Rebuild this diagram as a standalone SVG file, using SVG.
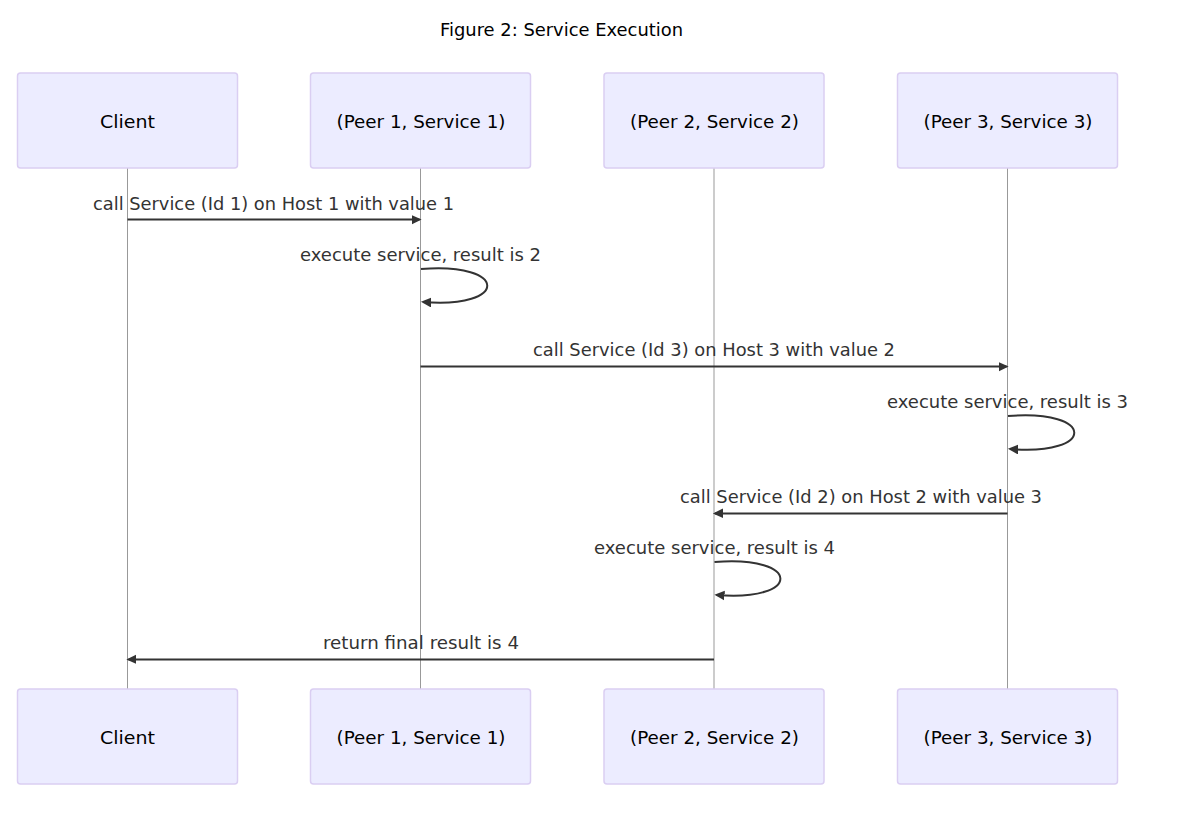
<svg xmlns="http://www.w3.org/2000/svg" width="1186" height="822" viewBox="0 0 1186 822">
<style>
.actor{fill:#ECECFF;stroke:hsl(259.6,59.2%,87.9%);stroke-width:1.5}
.atext{font-family:"DejaVu Sans",sans-serif;font-size:18px;fill:#000;text-anchor:middle;dominant-baseline:central}
.life{stroke:#999;stroke-width:1}
.msg{stroke:#333;stroke-width:2;fill:none}
.mtext{font-family:"DejaVu Sans",sans-serif;font-size:17.8px;fill:#333;text-anchor:middle}
.title{font-family:"DejaVu Sans",sans-serif;font-size:18px;fill:#000;text-anchor:middle}
</style>
<defs>
<marker id="arrow" markerWidth="12" markerHeight="12" refX="7.9" refY="5" orient="auto" markerUnits="userSpaceOnUse">
<path d="M -1 0 L 10 5 L 0 10 z" fill="#333"/>
</marker>
</defs>
<rect width="1186" height="822" fill="#fff"/>
<text class="title" x="561.5" y="36" textLength="243" lengthAdjust="spacingAndGlyphs">Figure 2: Service Execution</text>
<g id="lifelines">
<line class="life" x1="127.5" y1="168" x2="127.5" y2="689"/>
<line class="life" x1="420.5" y1="168" x2="420.5" y2="689"/>
<line class="life" x1="714" y1="168" x2="714" y2="689"/>
<line class="life" x1="1007.5" y1="168" x2="1007.5" y2="689"/>
</g>
<g id="actor-client-top"><rect class="actor" x="17.5" y="73" width="220" height="95" rx="3"/><text class="atext" x="127.5" y="121" textLength="55" lengthAdjust="spacingAndGlyphs">Client</text></g>
<g id="actor-peer1-top"><rect class="actor" x="310.5" y="73" width="220" height="95" rx="3"/><text class="atext" x="421" y="121" textLength="169" lengthAdjust="spacingAndGlyphs">(Peer 1, Service 1)</text></g>
<g id="actor-peer2-top"><rect class="actor" x="604" y="73" width="220" height="95" rx="3"/><text class="atext" x="714.5" y="121" textLength="169" lengthAdjust="spacingAndGlyphs">(Peer 2, Service 2)</text></g>
<g id="actor-peer3-top"><rect class="actor" x="897.5" y="73" width="220" height="95" rx="3"/><text class="atext" x="1008" y="121" textLength="169" lengthAdjust="spacingAndGlyphs">(Peer 3, Service 3)</text></g>
<g id="actor-client-bottom"><rect class="actor" x="17.5" y="689" width="220" height="95" rx="3"/><text class="atext" x="127.5" y="737" textLength="55" lengthAdjust="spacingAndGlyphs">Client</text></g>
<g id="actor-peer1-bottom"><rect class="actor" x="310.5" y="689" width="220" height="95" rx="3"/><text class="atext" x="421" y="737" textLength="169" lengthAdjust="spacingAndGlyphs">(Peer 1, Service 1)</text></g>
<g id="actor-peer2-bottom"><rect class="actor" x="604" y="689" width="220" height="95" rx="3"/><text class="atext" x="714.5" y="737" textLength="169" lengthAdjust="spacingAndGlyphs">(Peer 2, Service 2)</text></g>
<g id="actor-peer3-bottom"><rect class="actor" x="897.5" y="689" width="220" height="95" rx="3"/><text class="atext" x="1008" y="737" textLength="169" lengthAdjust="spacingAndGlyphs">(Peer 3, Service 3)</text></g>
<g id="connectors">
<line class="msg" x1="127.5" y1="219.5" x2="419.5" y2="219.5" marker-end="url(#arrow)"/>
<path class="msg" d="M421,269 C509,262 509,309 423,302" marker-end="url(#arrow)"/>
<line class="msg" x1="420.5" y1="366.5" x2="1006.5" y2="366.5" marker-end="url(#arrow)"/>
<path class="msg" d="M1008,416 C1096,409 1096,456 1010,449" marker-end="url(#arrow)"/>
<line class="msg" x1="1007.5" y1="513.5" x2="715" y2="513.5" marker-end="url(#arrow)"/>
<path class="msg" d="M714.5,562 C802,555 802,602 716.5,595" marker-end="url(#arrow)"/>
<line class="msg" x1="714" y1="659.5" x2="128.5" y2="659.5" marker-end="url(#arrow)"/>
</g>
<g id="labels">
<text class="mtext" x="273.5" y="210" textLength="361" lengthAdjust="spacingAndGlyphs">call Service (Id 1) on Host 1 with value 1</text>
<text class="mtext" x="420.5" y="261" textLength="241" lengthAdjust="spacingAndGlyphs">execute service, result is 2</text>
<text class="mtext" x="714" y="356" textLength="362" lengthAdjust="spacingAndGlyphs">call Service (Id 3) on Host 3 with value 2</text>
<text class="mtext" x="1007.5" y="408" textLength="241" lengthAdjust="spacingAndGlyphs">execute service, result is 3</text>
<text class="mtext" x="861" y="503" textLength="362" lengthAdjust="spacingAndGlyphs">call Service (Id 2) on Host 2 with value 3</text>
<text class="mtext" x="714.5" y="554" textLength="241" lengthAdjust="spacingAndGlyphs">execute service, result is 4</text>
<text class="mtext" x="421" y="649" textLength="196" lengthAdjust="spacingAndGlyphs">return final result is 4</text>
</g>
</svg>
